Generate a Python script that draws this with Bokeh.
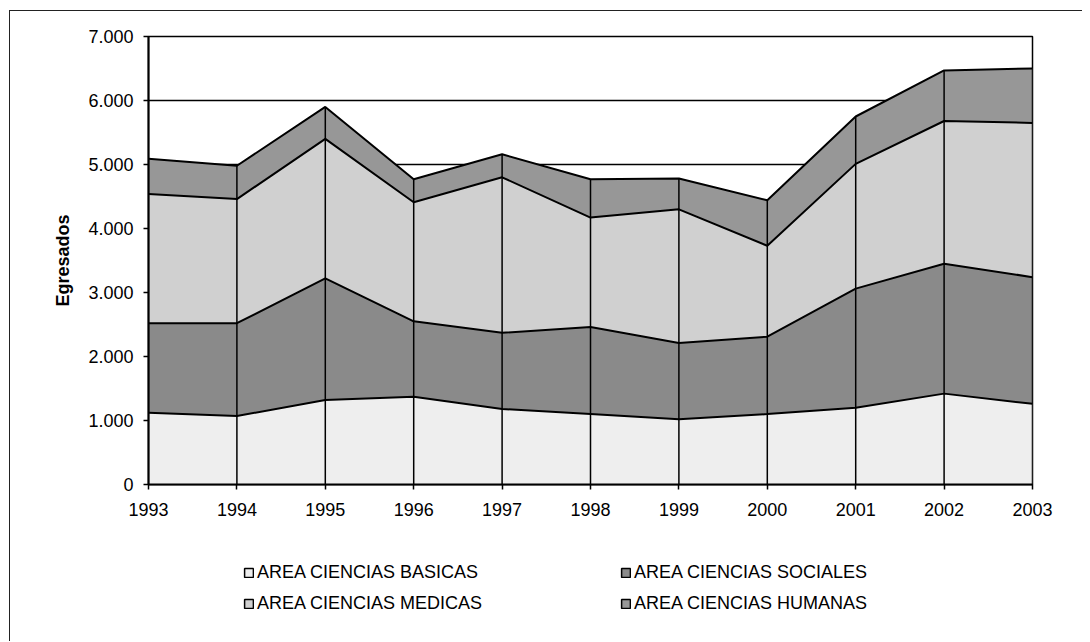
import numpy as np
from bokeh.plotting import figure
from bokeh.layouts import column
from bokeh.models import (ColumnDataSource, Range1d, FixedTicker, CustomJSTickFormatter,
                          Legend, LegendItem)
from bokeh.embed import file_html
from bokeh.resources import INLINE

# ---- data ----
years = [1993, 1994, 1995, 1996, 1997, 1998, 1999, 2000, 2001, 2002, 2003]
basicas = [1120, 1070, 1320, 1370, 1180, 1100, 1020, 1100, 1200, 1420, 1260]
sociales = [1400, 1450, 1900, 1180, 1190, 1360, 1190, 1210, 1860, 2030, 1980]
medicas = [2020, 1940, 2180, 1860, 2430, 1710, 2090, 1420, 1950, 2230, 2410]
humanas = [550, 520, 500, 360, 360, 600, 480, 710, 740, 790, 850]

series = ["basicas", "sociales", "medicas", "humanas"]
labels = ["AREA CIENCIAS BASICAS", "AREA CIENCIAS SOCIALES",
          "AREA CIENCIAS MEDICAS", "AREA CIENCIAS HUMANAS"]
colors = ["#eeeeee", "#8a8a8a", "#d0d0d0", "#979797"]
y_ticks = [0, 1000, 2000, 3000, 4000, 5000, 6000, 7000]

src = ColumnDataSource(dict(year=years, basicas=basicas, sociales=sociales,
                            medicas=medicas, humanas=humanas))
totals = (np.array(basicas) + np.array(sociales) + np.array(medicas) + np.array(humanas)).tolist()

FONT = "Liberation Sans"
W = 1073

p = figure(width=W, height=520, output_backend="svg", toolbar_location=None,
           x_range=Range1d(1993, 2003), y_range=Range1d(0, 7000),
           min_border_left=138, min_border_right=51, min_border_top=25, min_border_bottom=47,
           background_fill_color="white", border_fill_color="white")
p.margin = (10, 0, 0, 9)
p.styles = {"border-left": "1px solid #222", "border-top": "1px solid #222"}

p.outline_line_color = "black"
p.outline_line_width = 1.5

# areas
p.varea_stack(series, x="year", source=src, color=colors)
p.vline_stack(series, x="year", source=src, color="black", line_width=2)
p.segment(x0=years, y0=[0] * len(years), x1=years, y1=totals, line_color="black", line_width=1.5)

# grid
p.xgrid.visible = False
p.ygrid.ticker = FixedTicker(ticks=y_ticks)
p.ygrid.grid_line_color = "black"
p.ygrid.grid_line_width = 1.5

# axes
p.xaxis.ticker = FixedTicker(ticks=years)
p.yaxis.ticker = FixedTicker(ticks=y_ticks)
p.yaxis.formatter = CustomJSTickFormatter(
    code="return tick.toFixed(0).replace(/\\B(?=(\\d{3})+(?!\\d))/g, '.');")
p.xaxis.formatter = CustomJSTickFormatter(code="return tick.toFixed(0);")
for ax in (p.xaxis[0], p.yaxis[0]):
    ax.axis_line_color = "black"
    ax.axis_line_width = 2
    ax.major_tick_line_color = "black"
    ax.major_tick_line_width = 1.5
    ax.major_tick_out = 5
    ax.major_tick_in = 0
    ax.minor_tick_line_color = None
    ax.major_label_text_font = FONT
    ax.major_label_text_font_size = "18px"
    ax.major_label_text_color = "black"
p.xaxis.major_label_standoff = 13
p.yaxis.major_label_standoff = 10
p.yaxis.axis_label = "Egresados"
p.yaxis.axis_label_text_font = FONT
p.yaxis.axis_label_text_font_style = "bold"
p.yaxis.axis_label_text_font_size = "18px"
p.yaxis.axis_label_text_color = "black"
p.yaxis.axis_label_standoff = 12

# ---- legend figure (below the chart) ----
p2 = figure(width=W, height=111, output_backend="svg", toolbar_location=None,
            x_range=Range1d(0, 1), y_range=Range1d(0, 1),
            x_axis_type=None, y_axis_type=None,
            min_border_left=0, min_border_right=0, min_border_top=0, min_border_bottom=0,
            background_fill_color="white", border_fill_color="white")
p2.margin = (0, 0, 0, 9)
p2.styles = {"border-left": "1px solid #222"}
p2.outline_line_color = None
p2.grid.visible = False

items = []
for name, lab, col in zip(series, labels, colors):
    # swatch-only renderer, placed outside the visible range
    r = p2.quad(left=[5], right=[6], top=[6], bottom=[5], fill_color=col,
                line_color="black", line_width=1.5)
    items.append(LegendItem(label=lab, renderers=[r]))

legend = Legend(items=items, orientation="horizontal", ncols=2,
                location=(95, 27), padding=0, margin=0, spacing=10,
                glyph_width=11, glyph_height=11, label_standoff=3,
                label_width=353, label_height=19,
                label_text_font=FONT, label_text_font_size="18px",
                label_text_color="black",
                border_line_color=None, background_fill_alpha=0)
p2.add_layout(legend, "center")

layout = column(p, p2, spacing=0)
open("out.html", "w").write(file_html(layout, INLINE))
